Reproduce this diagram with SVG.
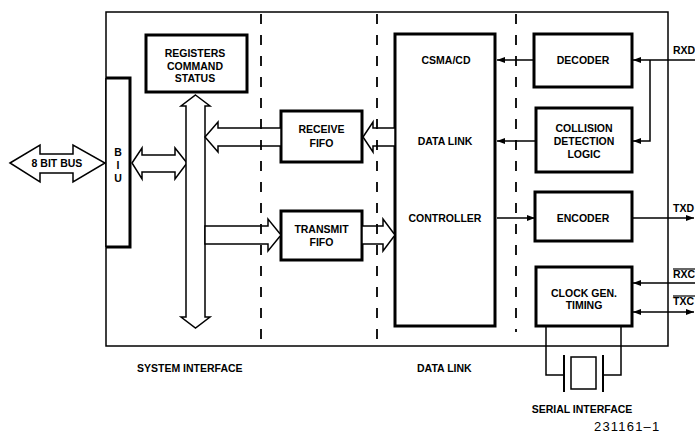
<svg xmlns="http://www.w3.org/2000/svg" width="695" height="434" viewBox="0 0 695 434">
<style>
text{font-family:"Liberation Sans",Arial,sans-serif;font-weight:bold;font-size:10.5px;fill:#000;text-anchor:middle}
.box{fill:#fff;stroke:#000;stroke-width:3}
.thin{fill:none;stroke:#000;stroke-width:1.5}
.hollow{fill:#fff;stroke:#000;stroke-width:1.5;stroke-linejoin:miter}
.wire{fill:none;stroke:#000;stroke-width:1.5}
.dash{fill:none;stroke:#000;stroke-width:1.8;stroke-dasharray:10 11}
</style>
<defs>
<marker id="ah" markerUnits="userSpaceOnUse" markerWidth="8" markerHeight="6" refX="8" refY="3" orient="auto-start-reverse">
<path d="M0,0 L8,3 L0,6 z" fill="#000"/>
</marker>
</defs>
<rect width="695" height="434" fill="#fff"/>
<g id="outer">
<rect x="106" y="12" width="562" height="334" class="thin"/>
</g>
<g id="biu">
<path d="M106,78 L130,78 L130,247 L106,247" fill="#fff" stroke="#000" stroke-width="3"/>
<line x1="106" y1="78" x2="106" y2="247" stroke="#000" stroke-width="1.5"/>
<text x="118" y="156">B</text>
<text x="118" y="169">I</text>
<text x="118" y="182">U</text>
</g>
<g id="registers">
<rect x="146" y="35" width="101" height="57" class="box"/>
<text x="195" y="57">REGISTERS</text>
<text x="195" y="70">COMMAND</text>
<text x="195" y="82">STATUS</text>
</g>
<g id="receive-fifo">
<rect x="281" y="111" width="81" height="51" class="box"/>
<text x="321.5" y="133">RECEIVE</text>
<text x="321.5" y="147">FIFO</text>
</g>
<g id="transmit-fifo">
<rect x="281" y="211" width="81" height="49" class="box"/>
<text x="321.5" y="233">TRANSMIT</text>
<text x="321.5" y="246">FIFO</text>
</g>
<g id="controller">
<rect x="395" y="34" width="100" height="292" class="box"/>
<text x="446" y="64">CSMA/CD</text>
<text x="445" y="145">DATA LINK</text>
<text x="445" y="222">CONTROLLER</text>
</g>
<g id="decoder">
<rect x="534" y="34" width="98" height="53" class="box"/>
<text x="583" y="64">DECODER</text>
</g>
<g id="collision">
<rect x="536" y="108" width="96" height="64" class="box"/>
<text x="584" y="132">COLLISION</text>
<text x="584" y="145">DETECTION</text>
<text x="584" y="158">LOGIC</text>
</g>
<g id="encoder">
<rect x="535" y="192" width="97" height="49" class="box"/>
<text x="583" y="222">ENCODER</text>
</g>
<g id="clock">
<rect x="536" y="267" width="96" height="59" class="box"/>
<text x="584" y="297">CLOCK GEN.</text>
<text x="584" y="309">TIMING</text>
</g>
<g id="crystal">
<path d="M546,326 L546,375 L564,375" class="wire"/>
<path d="M621,326 L621,375 L603,375" class="wire"/>
<line x1="564" y1="355" x2="564" y2="392" stroke="#000" stroke-width="2"/>
<line x1="603" y1="355" x2="603" y2="392" stroke="#000" stroke-width="2"/>
<rect x="571" y="357" width="25" height="32" fill="#fff" stroke="#000" stroke-width="1.5"/>
</g>
<g id="connectors">
<polygon class="hollow" points="10,163 40,145 40,154 73,154 73,145 105,163 73,182 73,173 40,173 40,182"/>
<polygon class="hollow" points="132,163 142,148 142,155 175,155 175,148 187,163 175,179 175,172 142,172 142,179"/>
<polygon class="hollow" points="195.5,95 210,106 205,106 205,317 210,317 195.5,328 181,317 186,317 186,106 181,106"/>
<polygon class="hollow" points="205,137 218,122 218,128 281,128 281,146 218,146 218,152"/>
<polygon class="hollow" points="363,137 373,122 373,128 395,128 395,146 373,146 373,152"/>
<polygon class="hollow" points="205,226 268,226 268,219 281,235 268,251 268,244 205,244"/>
<polygon class="hollow" points="362,226 383,226 383,219 395,235 383,251 383,244 362,244"/>
<line x1="534" y1="60" x2="497" y2="60" class="wire" marker-end="url(#ah)"/>
<line x1="536" y1="141" x2="497" y2="141" class="wire" marker-end="url(#ah)"/>
<line x1="497" y1="218" x2="535" y2="218" class="wire" marker-end="url(#ah)"/>
<line x1="695" y1="60" x2="633" y2="60" class="wire" marker-end="url(#ah)"/>
<path d="M650,60 L650,141 L633,141" class="wire" marker-end="url(#ah)"/>
<line x1="632" y1="218" x2="694" y2="218" class="wire" marker-end="url(#ah)"/>
<line x1="695" y1="283" x2="633" y2="283" class="wire" marker-end="url(#ah)"/>
<line x1="633" y1="312" x2="694" y2="312" class="wire" marker-start="url(#ah)" marker-end="url(#ah)"/>
</g>
<g id="separators">
<line x1="261" y1="14" x2="261" y2="345" class="dash"/>
<line x1="377" y1="14" x2="377" y2="345" class="dash"/>
<line x1="516" y1="14" x2="516" y2="332" class="dash"/>
</g>
<g id="labels">
<text x="57" y="167" font-size="11">8 BIT BUS</text>
<text x="137" y="372" style="text-anchor:start">SYSTEM INTERFACE</text>
<text x="417" y="372" style="text-anchor:start">DATA LINK</text>
<text x="582" y="413">SERIAL INTERFACE</text>
<text x="673" y="54" style="text-anchor:start">RXD</text>
<text x="673" y="212" style="text-anchor:start">TXD</text>
<text x="673" y="278" style="text-anchor:start">RXC</text>
<text x="673" y="305" style="text-anchor:start">TXC</text>
<line x1="673" y1="269" x2="695" y2="269" stroke="#000" stroke-width="1.2"/>
<line x1="673" y1="296" x2="695" y2="296" stroke="#000" stroke-width="1.2"/>
<text x="594" y="431" style="text-anchor:start;font-weight:normal;font-size:13px;letter-spacing:1.2px">231161–1</text>
</g>
</svg>
